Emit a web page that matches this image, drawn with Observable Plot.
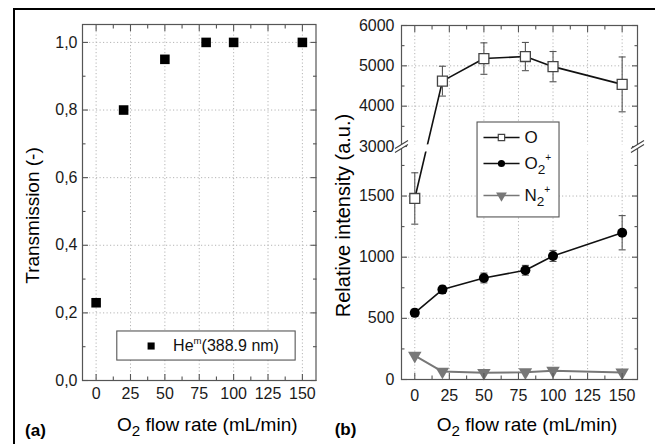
<!DOCTYPE html>
<html><head><meta charset="utf-8">
<script src="https://cdn.jsdelivr.net/npm/d3@7"></script>
<script src="https://cdn.jsdelivr.net/npm/@observablehq/plot@0.6"></script>
<style>
body{margin:0;background:#fff;}
#wrap{position:relative;width:655px;height:444px;overflow:hidden;background:#fff;font-family:"Liberation Sans",Arial,sans-serif;}
#frame{position:absolute;left:13px;top:8px;width:700px;height:500px;border:2px solid #000;box-sizing:border-box;}
#a{position:absolute;left:0;top:0;}
#b{position:absolute;left:327px;top:0;}
</style></head><body><div id="wrap"><div id="frame"></div><div id="a"></div><div id="b"></div></div>
<script>
// ---- data ----
const flowA = [0, 20, 50, 80, 100, 150];
const transmission = [0.23, 0.80, 0.95, 1.0, 1.0, 1.0];
const flowB = [0, 20, 50, 80, 100, 150];
const oIntensity = [1480, 4620, 5180, 5230, 4980, 4540];
const oError = [210, 370, 390, 350, 375, 680];
const o2Intensity = [545, 735, 830, 893, 1010, 1200];
const o2Error = [30, 30, 40, 40, 45, 140];
const n2Intensity = [195, 65, 55, 60, 72, 58];
const xTicks = [0, 25, 50, 75, 100, 125, 150];
const xMinor = [12.5, 37.5, 62.5, 87.5, 112.5, 137.5];
const yTicksA = [0, 0.2, 0.4, 0.6, 0.8, 1.0];
const yMinorA = [0.1, 0.3, 0.5, 0.7, 0.9];
const yTicksB = [0, 500, 1000, 1500, 3000, 4000, 5000, 6000];
const yMinorB = [250, 750, 1250, 1750, 3500, 4500, 5500];
const yGridB = [500, 1000, 1500, 4000, 5000];
const breakB = [1860, 3000];
const labelX = "O_{2} flow rate (mL/min)";
const labelYA = "Transmission (-)";
const labelYB = "Relative intensity (a.u.)";
const legendA = ["He^{m}(388.9 nm)"];
const legendB = ["O", "O_{2}^{+}", "N_{2}^{+}"];

const rowsA = flowA.map((x, i) => ({x, y: transmission[i]}));
const rowsO = flowB.map((x, i) => ({x, y: oIntensity[i], e: oError[i]}));
const rowsO2 = flowB.map((x, i) => ({x, y: o2Intensity[i], e: o2Error[i]}));
const rowsN2 = flowB.map((x, i) => ({x, y: n2Intensity[i]}));

const FONT = "Liberation Sans, Arial, sans-serif";
const FRAME = "#555";
const GRID = {stroke: "#b5b5b5", strokeOpacity: 1, strokeDasharray: "1.2,2.3"};
const comma = d => d.toFixed(1).replace(".", ",");
const plain = d => String(d);
const blank = () => "";

const capSym = {draw(ctx) { ctx.moveTo(-3.5, 0); ctx.lineTo(3.5, 0); }};
const breakFill = {draw(ctx) { ctx.moveTo(-6.5, 6); ctx.lineTo(6.5, -2); ctx.lineTo(6.5, -6); ctx.lineTo(-6.5, 2); ctx.closePath(); }};
const breakLines = {draw(ctx) { ctx.moveTo(-6.5, 6); ctx.lineTo(6.5, -2); ctx.moveTo(-6.5, 2); ctx.lineTo(6.5, -6); }};

function axes(yTicks, yMinor, yFmt, padX, padY) {
  const s = {stroke: FRAME, strokeWidth: 1.1};
  return [
    Plot.axisX(xTicks, {anchor: "bottom", tickSize: -6, tickPadding: padX, tickFormat: plain, fontSize: 16, fill: "#1a1a1a", label: null, ...s}),
    Plot.axisX(xMinor, {anchor: "bottom", tickSize: -3.5, tickFormat: blank, label: null, ...s}),
    Plot.axisX(xTicks, {anchor: "top", tickSize: -6, tickFormat: blank, label: null, ...s}),
    Plot.axisX(xMinor, {anchor: "top", tickSize: -3.5, tickFormat: blank, label: null, ...s}),
    Plot.axisY(yTicks, {anchor: "left", tickSize: -6, tickPadding: padY, tickFormat: yFmt, fontSize: 16, fill: "#1a1a1a", label: null, ...s}),
    Plot.axisY(yMinor, {anchor: "left", tickSize: -3.5, tickFormat: blank, label: null, ...s}),
    Plot.axisY(yTicks, {anchor: "right", tickSize: -6, tickFormat: blank, label: null, ...s}),
    Plot.axisY(yMinor, {anchor: "right", tickSize: -3.5, tickFormat: blank, label: null, ...s})
  ];
}

function titles(yLabel, yFs, yDx, xDx, xDy, panel, pDx) {
  return [
    Plot.text([labelX], {text: d => d, frameAnchor: "bottom", textAnchor: "middle", dx: xDx, dy: xDy, fontSize: 19, fill: "#000"}),
    Plot.text([yLabel], {text: d => d, frameAnchor: "left", textAnchor: "middle", rotate: -90, dx: yDx, dy: 13, fontSize: yFs, fill: "#000"}),
    Plot.text([panel], {text: d => d, frameAnchor: "bottom-left", textAnchor: "middle", dx: pDx, dy: 55, fontSize: 17, fontWeight: "bold", fill: "#000"})
  ];
}

const plotA = Plot.plot({
  width: 327, height: 444,
  marginLeft: 82, marginRight: 11.5, marginTop: 24, marginBottom: 64,
  style: {background: "transparent", fontFamily: FONT, overflow: "visible"},
  x: {domain: [-9.9, 159.9]},
  y: {domain: [0, 1.053]},
  marks: [
    Plot.gridX(xTicks, GRID),
    Plot.gridY(yTicksA.slice(1), GRID),
    Plot.rect([legendA], {x1: 15.4, x2: 145.1, y1: 0.059, y2: 0.145, fill: "white", stroke: FRAME, strokeWidth: 1.1}),
    Plot.dot(legendA, {x: 40, y: 0.102, symbol: "square", r: 4, fill: "#000"}),
    Plot.text(legendA, {x: 56, y: 0.102, text: d => d, textAnchor: "start", fontSize: 16, fill: "#111"}),
    Plot.dot(rowsA, {x: "x", y: "y", symbol: "square", r: 5.4, fill: "#000"}),
    Plot.frame({stroke: FRAME, strokeWidth: 1.2}),
    ...axes(yTicksA, yMinorA, comma, 13, 11),
    ...titles(labelYA, 19, -49.5, 8, 50, "(a)", -47)
  ]
});

const legY = [3223, 1766, 1504];
const plotB = Plot.plot({
  width: 328, height: 444,
  marginLeft: 74, marginRight: 18, marginTop: 25, marginBottom: 65,
  style: {background: "transparent", fontFamily: FONT, overflow: "visible"},
  x: {domain: [-9.6, 161.1]},
  y: {type: "linear", domain: [0, breakB[0], breakB[1], 6000], range: [379, 151.5, 146, 25]},
  marks: [
    Plot.gridX(xTicks, GRID),
    Plot.gridY(yGridB, GRID),
    Plot.ruleX(rowsO, {x: "x", y1: d => d.y - d.e, y2: d => d.y + d.e, stroke: "#555", strokeWidth: 1.1}),
    Plot.dot(rowsO, {x: "x", y: d => d.y - d.e, symbol: capSym, fill: "none", stroke: "#555", strokeWidth: 1.1}),
    Plot.dot(rowsO, {x: "x", y: d => d.y + d.e, symbol: capSym, fill: "none", stroke: "#555", strokeWidth: 1.1}),
    Plot.line(rowsO, {x: "x", y: "y", stroke: "#111", strokeWidth: 1.6}),
    Plot.ruleX(rowsO2, {x: "x", y1: d => d.y - d.e, y2: d => d.y + d.e, stroke: "#555", strokeWidth: 1.1}),
    Plot.dot(rowsO2, {x: "x", y: d => d.y - d.e, symbol: capSym, fill: "none", stroke: "#555", strokeWidth: 1.1}),
    Plot.dot(rowsO2, {x: "x", y: d => d.y + d.e, symbol: capSym, fill: "none", stroke: "#555", strokeWidth: 1.1}),
    Plot.line(rowsO2, {x: "x", y: "y", stroke: "#111", strokeWidth: 1.6}),
    Plot.line(rowsN2, {x: "x", y: "y", stroke: "#777", strokeWidth: 2}),
    Plot.rect([breakB], {x1: -9.6, x2: 161.1, y1: d => d[0], y2: d => d[1] + 40, fill: "white"}),
    Plot.dot(rowsO, {x: "x", y: "y", symbol: "square", r: 5.6, fill: "white", stroke: "#444", strokeWidth: 1.3}),
    Plot.dot(rowsO2, {x: "x", y: "y", symbol: "circle", r: 5, fill: "#000"}),
    Plot.dot(rowsN2, {x: "x", y: "y", symbol: "triangle", rotate: 180, r: 5, fill: "#777"}),
    Plot.rect([legendB], {x1: 45.4, x2: 104.7, y1: 1325, y2: 3595, fill: "white", stroke: FRAME, strokeWidth: 1.1}),
    Plot.link(legendB, {x1: 49.7, x2: 75.8, y1: (d, i) => legY[i], y2: (d, i) => legY[i], stroke: (d, i) => i === 2 ? "#777" : "#111", strokeWidth: 1.6}),
    Plot.dot([legendB[0]], {x: 62.7, y: legY[0], symbol: "square", r: 3.6, fill: "white", stroke: "#444", strokeWidth: 1.2}),
    Plot.dot([legendB[1]], {x: 62.7, y: legY[1], symbol: "circle", r: 3.6, fill: "#000"}),
    Plot.dot([legendB[2]], {x: 62.7, y: legY[2], symbol: "triangle", rotate: 180, r: 4, fill: "#777"}),
    Plot.text(legendB, {x: 79.3, y: (d, i) => legY[i], text: d => d, textAnchor: "start", fontSize: 17, fill: "#111"}),
    Plot.frame({stroke: FRAME, strokeWidth: 1.2}),
    ...axes(yTicksB, yMinorB, plain, 16, 13),
    Plot.dot([-9.6, 161.1], {x: d => d, y: breakB[1], symbol: breakFill, r: 6, fill: "white", stroke: "none"}),
    Plot.dot([-9.6, 161.1], {x: d => d, y: breakB[1], symbol: breakLines, r: 6, fill: "none", stroke: "#444", strokeWidth: 1.1}),
    ...titles(labelYB, 20, -58, 7.5, 51, "(b)", -56)
  ]
});

document.getElementById("a").appendChild(plotA);
document.getElementById("b").appendChild(plotB);

function rich(el) {
  const s = el.textContent;
  if (!/[_^]\{/.test(s)) return;
  const fs = parseFloat(getComputedStyle(el).fontSize) || 16;
  while (el.firstChild) el.removeChild(el.firstChild);
  let shift = 0;
  const parts = s.split(/([_^]\{[^}]*\})/).filter(p => p);
  for (const p of parts) {
    const t = document.createElementNS("http://www.w3.org/2000/svg", "tspan");
    let target = 0, size = null, txt = p;
    if (p.startsWith("_{")) { target = 0.28 * fs; size = 0.8 * fs; txt = p.slice(2, -1); }
    else if (p.startsWith("^{")) { target = -0.45 * fs; size = 0.6 * fs; txt = p.slice(2, -1); }
    if (target - shift !== 0) t.setAttribute("dy", target - shift);
    shift = target;
    if (size) t.setAttribute("font-size", size);
    t.textContent = txt;
    el.appendChild(t);
  }
}
for (const svg of [plotA, plotB]) svg.querySelectorAll("text").forEach(rich);
</script>
</body></html>
